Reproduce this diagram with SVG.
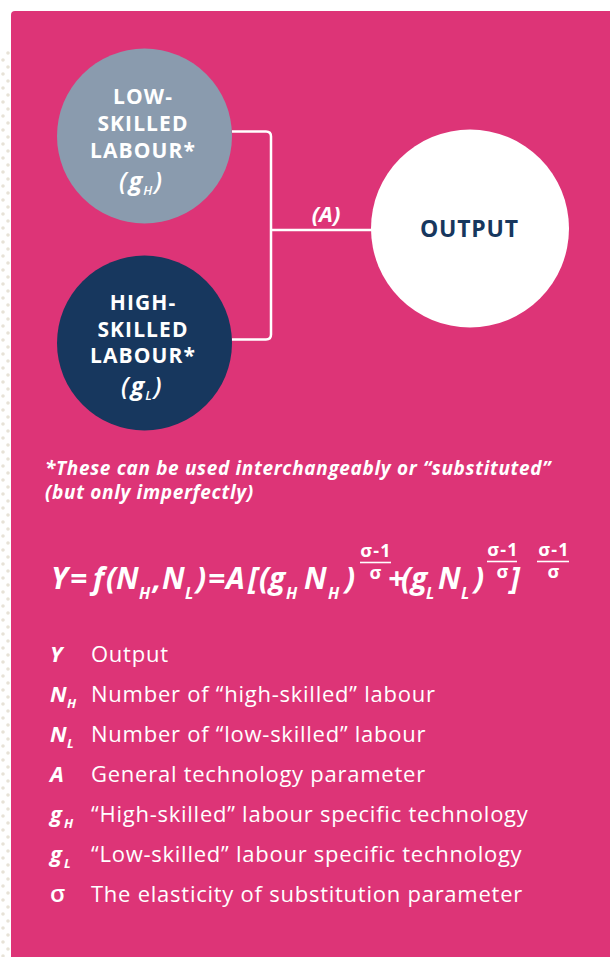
<svg xmlns="http://www.w3.org/2000/svg" width="610" height="957" viewBox="0 0 610 957">
<defs>
<pattern id="dots" x="0" y="0" width="10" height="14" patternUnits="userSpaceOnUse">
<circle cx="3" cy="4" r="1.8" fill="#E7E2D7"/>
<circle cx="8" cy="11" r="1.8" fill="#E7E2D7"/>
</pattern>
<style>
.w{fill:#fff}
.nodeT{font-family:"Open Sans","DejaVu Sans",sans-serif;font-weight:700;font-size:21px;text-anchor:middle;letter-spacing:1.1px}
.gl{font-family:"Open Sans","DejaVu Sans",sans-serif;font-size:25px;font-style:italic;font-weight:600}
.bi{font-family:"Open Sans","DejaVu Sans",sans-serif;font-weight:700;font-style:italic}
.reg{font-family:"Open Sans","DejaVu Sans",sans-serif;font-weight:400}
.sub{font-size:16px}
.conn{fill:none;stroke:#fff;stroke-width:2.5}
</style>
</defs>
<rect x="0" y="0" width="610" height="957" fill="#fff"/>
<rect x="0" y="50" width="11" height="907" fill="url(#dots)"/>
<path d="M11 15 Q11 11 15 11 H610 V957 H11 Z" fill="#DD3477"/>

<g id="connectors">
<path class="conn" d="M232 131.5 H266 Q271 131.5 271 136.5 V334.5 Q271 339.5 266 339.5 H232"/>
<path class="conn" d="M271 230 H372"/>
<text class="bi w" x="326" y="222" font-size="22" text-anchor="middle">(A)</text>
</g>

<g id="low-skilled">
<circle cx="144.5" cy="136" r="87.5" fill="#8A9BAE"/>
<text class="nodeT w" x="143" y="104">LOW-</text>
<text class="nodeT w" x="143" y="131">SKILLED</text>
<text class="nodeT w" x="143" y="158">LABOUR*</text>
<text class="gl w" x="119" y="190">(<tspan dx="2" font-weight="700">g</tspan><tspan font-size="13" dx="1" dy="5">H</tspan><tspan dx="2" dy="-5">)</tspan></text>
</g>

<g id="high-skilled">
<circle cx="144.5" cy="343" r="87.5" fill="#17375E"/>
<text class="nodeT w" x="143" y="310">HIGH-</text>
<text class="nodeT w" x="143" y="337">SKILLED</text>
<text class="nodeT w" x="143" y="363">LABOUR*</text>
<text class="gl w" x="121" y="395">(<tspan dx="2" font-weight="700">g</tspan><tspan font-size="13" dx="1" dy="5">L</tspan><tspan dx="2" dy="-5">)</tspan></text>
</g>

<g id="output">
<circle cx="470" cy="228.5" r="99" fill="#fff"/>
<text x="469.4" y="237" text-anchor="middle" font-family="Open Sans, sans-serif" font-weight="700" font-size="23" fill="#17375E" letter-spacing="0.8">OUTPUT</text>
</g>

<g id="footnote" class="bi w" font-size="19" letter-spacing="0.66">
<text x="45" y="475">*These can be used interchangeably or “substituted”</text>
<text x="45" y="499">(but only imperfectly)</text>
</g>

<g id="formula" class="bi w" font-size="30">
<text x="51 70 88 93 106 116" y="589">Y= f(N</text>
<text class="sub" x="139" y="599">H</text>
<text x="153 162" y="589">,N</text>
<text class="sub" x="185" y="599">L</text>
<text x="196 208 226 248 259 269" y="589">)=A[(g</text>
<text class="sub" x="286" y="599">H</text>
<text x="304" y="589">N</text>
<text class="sub" x="328" y="599">H</text>
<text x="345" y="589">)</text>
<text x="388 401 411" y="589">+(g</text>
<text class="sub" x="426" y="599">L</text>
<text x="438" y="589">N</text>
<text class="sub" x="461" y="599">L</text>
<text x="474" y="589">)</text>
<text x="510" y="589">]</text>
<g font-size="18" text-anchor="middle" font-style="normal" letter-spacing="1.2">
<text x="376" y="557">σ-1</text><text x="376" y="579">σ</text>
<text x="503" y="556">σ-1</text><text x="503" y="578">σ</text>
<text x="554" y="556">σ-1</text><text x="554" y="578">σ</text>
</g>
<g stroke="#fff" stroke-width="1.6">
<line x1="360" y1="562.5" x2="391" y2="562.5"/>
<line x1="487" y1="561.5" x2="517" y2="561.5"/>
<line x1="537" y1="561.5" x2="569" y2="561.5"/>
</g>
</g>

<g id="legend" class="w">
<g class="bi" font-size="22">
<text x="50" y="662">Y</text>
<text x="50" y="702">N</text><text x="67" y="708" font-size="13">H</text>
<text x="50" y="742">N</text><text x="67" y="748" font-size="13">L</text>
<text x="50" y="782">A</text>
<text x="50" y="822">g</text><text x="64" y="828" font-size="13">H</text>
<text x="50" y="862">g</text><text x="64" y="868" font-size="13">L</text>
<text x="50" y="902" font-style="normal" font-weight="600" font-size="24">σ</text>
</g>
<g class="reg" font-size="22" letter-spacing="0.75">
<text x="91" y="662">Output</text>
<text x="91" y="702">Number of “high-skilled” labour</text>
<text x="91" y="742">Number of “low-skilled” labour</text>
<text x="91" y="782">General technology parameter</text>
<text x="91" y="822">“High-skilled” labour specific technology</text>
<text x="91" y="862">“Low-skilled” labour specific technology</text>
<text x="91" y="902">The elasticity of substitution parameter</text>
</g>
</g>
</svg>
